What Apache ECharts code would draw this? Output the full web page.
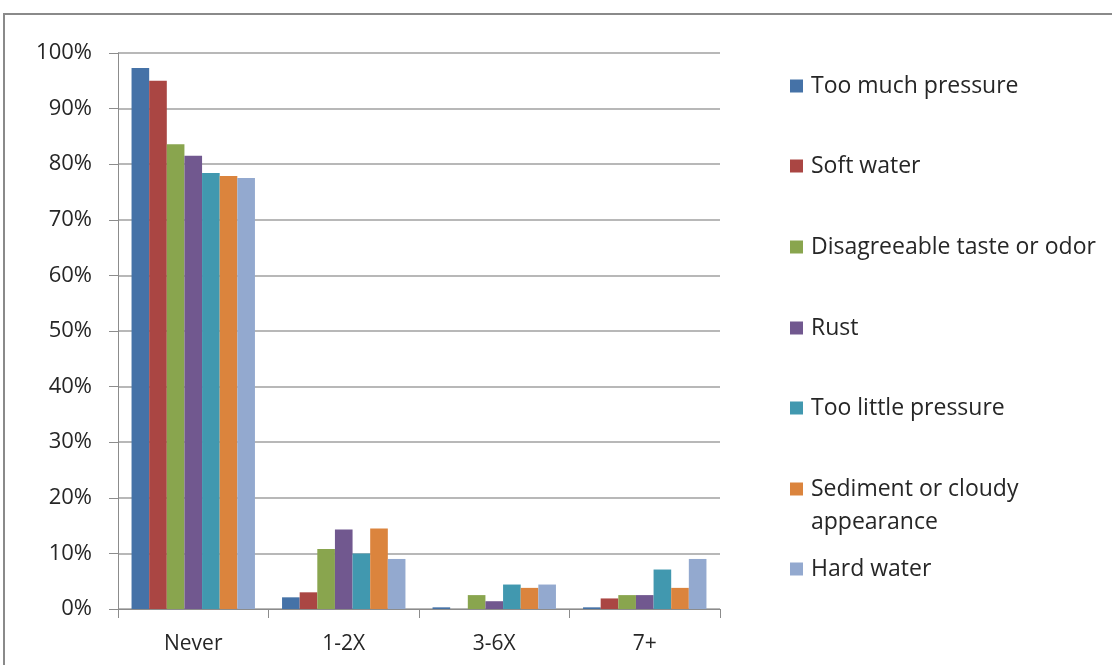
<!DOCTYPE html>
<html>
<head>
<meta charset="utf-8">
<script src="https://cdn.jsdelivr.net/npm/echarts@6/dist/echarts.min.js"></script>
<style>html,body{margin:0;padding:0;background:#fff;}#c{width:1112px;height:665px;}</style>
</head>
<body>
<div id="c"></div>
<script>
var categories = ['Never', '1-2X', '3-6X', '7+'];
var seriesNames = ['Too much pressure', 'Soft water', 'Disagreeable taste or odor', 'Rust', 'Too little pressure', 'Sediment or cloudy appearance', 'Hard water'];
var tooMuchPressure = [97.3, 2.1, 0.3, 0.3];
var softWater = [95.0, 3.0, 0, 1.9];
var disagreeableTaste = [83.6, 10.8, 2.5, 2.5];
var rust = [81.5, 14.3, 1.4, 2.5];
var tooLittlePressure = [78.4, 10.0, 4.4, 7.1];
var sediment = [77.9, 14.5, 3.8, 3.8];
var hardWater = [77.5, 9.0, 4.4, 9.0];
var yTicks = ['0%', '10%', '20%', '30%', '40%', '50%', '60%', '70%', '80%', '90%', '100%'];

var values = [tooMuchPressure, softWater, disagreeableTaste, rust, tooLittlePressure, sediment, hardWater];
var colors = ['#4572A7', '#AA4643', '#89A54E', '#71588F', '#4198AF', '#DB843D', '#93A9CF'];
var legendCenters = [86, 166, 247, 328, 408, 489, 569];
var FONT = 'Open Sans';

var chart = echarts.init(document.getElementById('c'), null, {renderer: 'canvas'});
var series = seriesNames.map(function (n, i) {
  return {
    name: n, type: 'bar', data: values[i], barGap: '0%', barCategoryGap: '18%',
    itemStyle: {color: colors[i]}
  };
});
var legends = seriesNames.map(function (n, i) {
  var multi = n === 'Sediment or cloudy appearance';
  var lh = 33;
  return {
    orient: 'vertical', left: 790,
    top: multi ? legendCenters[i] - lh * 1.5 : legendCenters[i] - lh / 2,
    data: [n], itemWidth: 13, itemHeight: 13, icon: 'rect', itemGap: 0, padding: 0,
    selectedMode: false,
    formatter: function (name) {
      return name === 'Sediment or cloudy appearance' ? '\nSediment or cloudy\nappearance' : name;
    },
    textStyle: {fontFamily: FONT, fontSize: 23, color: '#262626', lineHeight: lh, padding: [0, 0, 0, 3]}
  };
});
chart.setOption({
  animation: false,
  color: colors,
  graphic: [{type: 'rect', shape: {x: 4, y: 14, width: 1130, height: 680}, style: {fill: null, stroke: '#8a8a8a', lineWidth: 2}, z: -1}],
  grid: {left: 118, right: 392, top: 53, bottom: 56, containLabel: false},
  legend: legends,
  xAxis: {
    type: 'category', data: categories,
    axisLine: {lineStyle: {color: '#8c8c8c', width: 1}},
    axisTick: {show: true, length: 9, alignWithLabel: false, lineStyle: {color: '#8c8c8c'}},
    axisLabel: {fontFamily: FONT, fontSize: 21, color: '#262626', margin: 25}
  },
  yAxis: {
    type: 'value', min: 0, max: 100, interval: 10,
    axisLine: {show: true, lineStyle: {color: '#8c8c8c', width: 1}},
    axisTick: {show: true, length: 9, inside: false, lineStyle: {color: '#8c8c8c'}},
    splitLine: {lineStyle: {color: '#a0a0a0', width: 1.5}},
    axisLabel: {fontFamily: FONT, fontSize: 22, color: '#262626', margin: 26,
      formatter: function (v) { return yTicks[Math.round(v / 10)]; }}
  },
  series: series
});
</script>
</body>
</html>
